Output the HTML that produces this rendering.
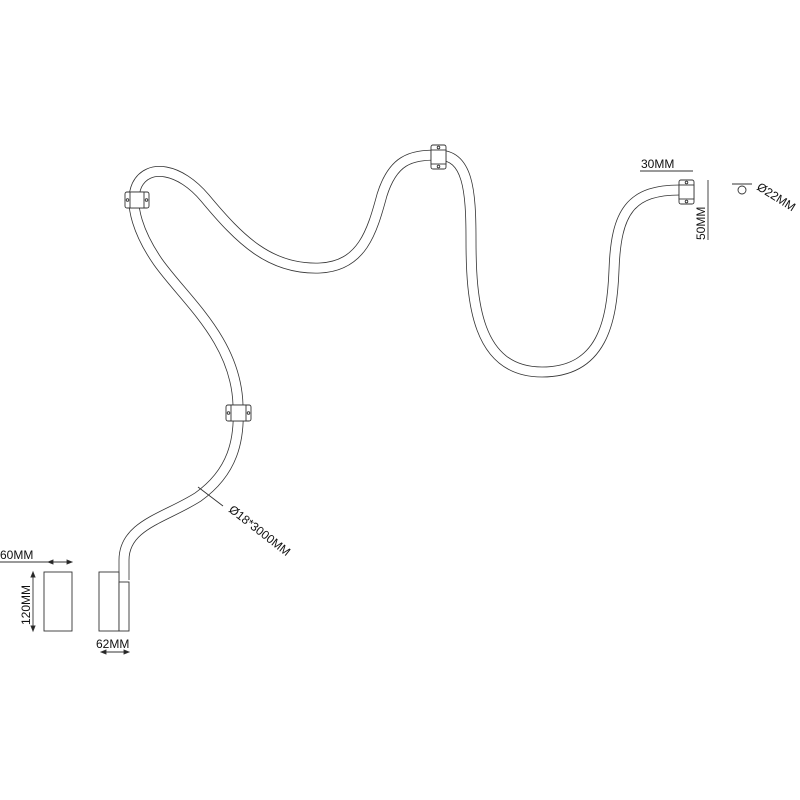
<!DOCTYPE html>
<html><head><meta charset="utf-8"><style>
html,body{margin:0;padding:0;background:#fff;}
svg{display:block}
text{font-family:"Liberation Sans",Arial,sans-serif;fill:#111;}
</style></head><body>
<svg width="800" height="800" viewBox="0 0 800 800" xmlns="http://www.w3.org/2000/svg">
<rect width="800" height="800" fill="#fff"/>
<g fill="none" stroke-linecap="butt" stroke-linejoin="round">
<path d="M124,580 L124,560 C124,525 165,518 198,497 C233,472 240,440 238,405 C236,340 185,300 158,262 C140,236 128,205 137,185 C148,163 180,168 205,198 C240,240 270,270 320,268 C362,266 372,232 382,195 C393,160 410,155 438,155 C468,155 471,190 471,240 C471,300 476,372 542,372 C602,372 612,322 614,270 C616,212 630,189 683,190" stroke="#333" stroke-width="10.8"/>
<path d="M124,580 L124,560 C124,525 165,518 198,497 C233,472 240,440 238,405 C236,340 185,300 158,262 C140,236 128,205 137,185 C148,163 180,168 205,198 C240,240 270,270 320,268 C362,266 372,232 382,195 C393,160 410,155 438,155 C468,155 471,190 471,240 C471,300 476,372 542,372 C602,372 612,322 614,270 C616,212 630,189 683,190" stroke="#fff" stroke-width="9.2"/>
</g>
<g fill="#fff" stroke="#333" stroke-width="0.9">
<rect x="125" y="192" width="24" height="16" rx="2"/>
<rect x="130" y="192" width="14" height="16"/>
<circle cx="127.5" cy="200" r="1.3"/><circle cx="146.5" cy="200" r="1.3"/>
<rect x="226" y="405" width="25" height="16" rx="2"/>
<rect x="231" y="405" width="15" height="16"/>
<circle cx="228.5" cy="413" r="1.3"/><circle cx="248.5" cy="413" r="1.3"/>
<rect x="431" y="145" width="15" height="24" rx="2"/>
<rect x="431" y="150" width="15" height="14"/>
<circle cx="438.5" cy="147.5" r="1.3"/><circle cx="438.5" cy="166.5" r="1.3"/>
<rect x="679" y="180" width="15" height="24" rx="2"/>
<rect x="679" y="185" width="15" height="14"/>
<circle cx="686.5" cy="182.5" r="1.3"/><circle cx="686.5" cy="201.5" r="1.3"/>
<rect x="99" y="572" width="20" height="59"/>
<rect x="119" y="582" width="10" height="49"/>
<rect x="44" y="572" width="28" height="59"/>
</g>
<g stroke="#333" stroke-width="0.9" fill="none">
<line x1="0" y1="562" x2="72" y2="562"/>
<path d="M48,562 l5,-2 v4z M72,562 l-5,-2 v4z" fill="#222"/>
<line x1="33" y1="572" x2="33" y2="631"/><path d="M33,572 l-2,5 h4z M33,631 l-2,-5 h4z" fill="#222"/>
<line x1="101" y1="652" x2="129" y2="652"/><path d="M101,652 l5,-2 v4z M129,652 l-5,-2 v4z" fill="#222"/>
<line x1="640" y1="171" x2="693" y2="171"/>
<line x1="708" y1="180" x2="708" y2="240"/>
<line x1="198" y1="487" x2="223" y2="506"/>
<line x1="732" y1="184" x2="752" y2="184"/>
<circle cx="742" cy="190" r="4"/>
</g>
<text x="0" y="559" font-size="12">60MM</text>
<text transform="translate(30,625) rotate(-90)" font-size="12">120MM</text>
<text x="96" y="648" font-size="12">62MM</text>
<text x="641" y="168" font-size="12">30MM</text>
<text transform="translate(705,240) rotate(-90)" font-size="12">50MM</text>
<text transform="translate(228,511) rotate(38)" font-size="12">Ø18*3000MM</text>
<text transform="translate(756,189) rotate(32)" font-size="12">Ø22MM</text>
</svg>
</body></html>
